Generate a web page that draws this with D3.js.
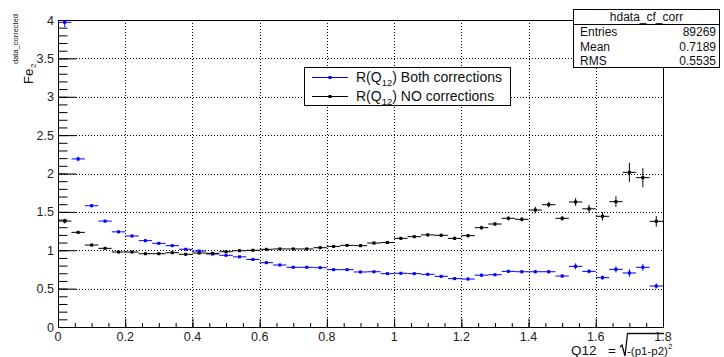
<!DOCTYPE html>
<html>
<head>
<meta charset="utf-8">
<script src="https://cdn.jsdelivr.net/npm/d3@7"></script>
<style>
  body { margin: 0; background: #fff; }
  text { font-family: "Liberation Sans", Arial, sans-serif; }
</style>
</head>
<body>
<div id="chart"></div>
<script type="text/javascript">

// bin centers (bin width 0.04)
var binCenters = [0.02, 0.06, 0.10, 0.14, 0.18, 0.22, 0.26, 0.30, 0.34, 0.38,
    0.42, 0.46, 0.50, 0.54, 0.58, 0.62, 0.66, 0.70, 0.74, 0.78,
    0.82, 0.86, 0.90, 0.94, 0.98, 1.02, 1.06, 1.10, 1.14, 1.18,
    1.22, 1.26, 1.30, 1.34, 1.38, 1.42, 1.46, 1.50, 1.54, 1.58,
    1.62, 1.66, 1.70, 1.74, 1.78];
var binHalfWidth = 0.02;

var bothValues = [3.97, 2.19, 1.58, 1.38, 1.24, 1.186, 1.125, 1.09, 1.06, 1.013,
    0.99, 0.951, 0.934, 0.914, 0.88, 0.838, 0.808, 0.778, 0.778, 0.773,
    0.747, 0.747, 0.717, 0.72, 0.695, 0.70, 0.695, 0.686, 0.66, 0.63,
    0.625, 0.675, 0.681, 0.725, 0.72, 0.72, 0.72, 0.664, 0.79, 0.725,
    0.643, 0.751, 0.704, 0.778, 0.534];
var bothErrors = [0.065, 0.03, 0.02, 0.018, 0.015, 0.014, 0.013, 0.012, 0.012, 0.011,
    0.011, 0.011, 0.011, 0.011, 0.011, 0.011, 0.011, 0.011, 0.012, 0.012,
    0.012, 0.012, 0.012, 0.013, 0.013, 0.013, 0.014, 0.014, 0.015, 0.015,
    0.016, 0.017, 0.018, 0.019, 0.02, 0.021, 0.022, 0.022, 0.039, 0.025,
    0.026, 0.04, 0.05, 0.045, 0.033];

var noCorrValues = [1.38, 1.233, 1.068, 1.025, 0.977, 0.977, 0.955, 0.955, 0.968, 0.947,
    0.964, 0.96, 0.981, 0.994, 1.0, 1.012, 1.017, 1.017, 1.017, 1.033,
    1.05, 1.064, 1.06, 1.094, 1.1, 1.155, 1.177, 1.2, 1.195, 1.155,
    1.19, 1.294, 1.342, 1.416, 1.403, 1.524, 1.594, 1.416, 1.629, 1.54,
    1.442, 1.633, 2.015, 1.946, 1.377];
var noCorrErrors = [0.03, 0.02, 0.015, 0.013, 0.012, 0.012, 0.012, 0.012, 0.012, 0.012,
    0.012, 0.012, 0.012, 0.012, 0.012, 0.013, 0.013, 0.013, 0.014, 0.014,
    0.015, 0.015, 0.016, 0.016, 0.017, 0.018, 0.019, 0.02, 0.021, 0.022,
    0.023, 0.024, 0.025, 0.026, 0.028, 0.043, 0.037, 0.03, 0.05, 0.054,
    0.054, 0.07, 0.124, 0.124, 0.07];

var xTicks = [0, 0.2, 0.4, 0.6, 0.8, 1, 1.2, 1.4, 1.6, 1.8];
var yTicks = [0, 0.5, 1, 1.5, 2, 2.5, 3, 3.5, 4];
var legendLabels = [" Both corrections", " NO corrections"];
var statsTitle = "hdata_cf_corr";
var statsNames = ["Entries", "Mean", "RMS"];
var statsValues = ["89269", "0.7189", "0.5535"];

var W = 724, H = 357;
var padL = 58, padR = 663, padT = 20, padB = 327;

var svg = d3.select("#chart").append("svg")
    .attr("width", W)
    .attr("height", H);

var x = d3.scaleLinear().domain([0, 1.8]).range([padL, padR]);
var y = d3.scaleLinear().domain([0, 4]).range([padB, padT]);

svg.append("defs").append("clipPath")
    .attr("id", "plotclip")
    .append("rect")
    .attr("x", padL).attr("y", padT)
    .attr("width", padR - padL).attr("height", padB - padT);

// grid
var grid = svg.append("g")
    .attr("stroke", "#000")
    .attr("stroke-width", 1)
    .attr("stroke-dasharray", "1,2");
grid.selectAll(".gx").data(xTicks.slice(1, -1)).enter().append("line")
    .attr("x1", function(d) { return Math.round(x(d)) + 0.5; })
    .attr("x2", function(d) { return Math.round(x(d)) + 0.5; })
    .attr("y1", padT).attr("y2", padB);
grid.selectAll(".gy").data(yTicks.slice(1)).enter().append("line")
    .attr("y1", function(d) { return Math.round(y(d)) + 0.5; })
    .attr("y2", function(d) { return Math.round(y(d)) + 0.5; })
    .attr("x1", padL).attr("x2", padR);

// axes (ROOT style ticks pointing inward)
svg.append("g")
    .attr("transform", "translate(0," + (padB + 0.5) + ")")
    .call(d3.axisTop(x).tickValues(d3.range(0, 1.8001, 0.05)).tickSize(4.5).tickFormat(""))
    .call(function(g) { g.select(".domain").remove(); });
svg.append("g")
    .attr("transform", "translate(0," + (padB + 0.5) + ")")
    .call(d3.axisTop(x).tickValues(xTicks).tickSize(9).tickFormat(""))
    .call(function(g) { g.select(".domain").remove(); });

svg.append("g")
    .attr("transform", "translate(" + (padL + 0.5) + ",0)")
    .call(d3.axisRight(y).tickValues(d3.range(0, 4.0001, 0.1)).tickSize(9).tickFormat(""))
    .call(function(g) { g.select(".domain").remove(); });
svg.append("g")
    .attr("transform", "translate(" + (padL + 0.5) + ",0)")
    .call(d3.axisRight(y).tickValues(yTicks).tickSize(18).tickFormat(""))
    .call(function(g) { g.select(".domain").remove(); });

svg.selectAll(".tick line").attr("stroke", "#000");

// frame
svg.append("rect")
    .attr("x", padL + 0.5).attr("y", padT + 0.5)
    .attr("width", padR - padL).attr("height", padB - padT)
    .attr("fill", "none").attr("stroke", "#000").attr("stroke-width", 1);

// tick labels
svg.append("g").selectAll("text")
    .data(xTicks).enter().append("text")
    .attr("x", function(d) { return x(d); })
    .attr("y", 341)
    .attr("text-anchor", "middle")
    .attr("font-size", 12.5)
    .attr("fill", "#222")
    .text(function(d) { return d; });
svg.append("g").selectAll("text")
    .data(yTicks).enter().append("text")
    .attr("x", 54)
    .attr("y", function(d) { return y(d) + 4.5; })
    .attr("text-anchor", "end")
    .attr("font-size", 12.5)
    .attr("fill", "#222")
    .text(function(d) { return d; });

// histograms with error bars
function drawHist(values, errors, color) {
    var g = svg.append("g")
        .attr("clip-path", "url(#plotclip)")
        .attr("stroke", color)
        .attr("fill", color);
    var pts = g.selectAll("g").data(values).enter().append("g");
    pts.append("line")
        .attr("x1", function(d, i) { return x(binCenters[i] - binHalfWidth); })
        .attr("x2", function(d, i) { return x(binCenters[i] + binHalfWidth); })
        .attr("y1", function(d) { return y(d); })
        .attr("y2", function(d) { return y(d); });
    pts.append("line")
        .attr("x1", function(d, i) { return x(binCenters[i]); })
        .attr("x2", function(d, i) { return x(binCenters[i]); })
        .attr("y1", function(d, i) { return y(d - errors[i]); })
        .attr("y2", function(d, i) { return y(d + errors[i]); });
    pts.append("rect")
        .attr("x", function(d, i) { return x(binCenters[i]) - 1.5; })
        .attr("y", function(d) { return y(d) - 1.5; })
        .attr("width", 3).attr("height", 3)
        .attr("stroke", "none");
}
drawHist(bothValues, bothErrors, "#0000ff");
drawHist(noCorrValues, noCorrErrors, "#000");

// legend
var legend = svg.append("g");
legend.append("rect")
    .attr("x", 304.5).attr("y", 67.5)
    .attr("width", 206).attr("height", 38)
    .attr("fill", "#fff").attr("stroke", "#000");
var legendColors = ["#0000ff", "#000"];
var legendY = [77, 96];
legendLabels.forEach(function(lab, i) {
    legend.append("line")
        .attr("x1", 312).attr("x2", 348)
        .attr("y1", legendY[i] + 0.5).attr("y2", legendY[i] + 0.5)
        .attr("stroke", legendColors[i]);
    legend.append("rect")
        .attr("x", 328.5).attr("y", legendY[i] - 1)
        .attr("width", 3).attr("height", 3)
        .attr("fill", legendColors[i]);
    var t = legend.append("text")
        .attr("x", 356).attr("y", legendY[i] + 5)
        .attr("font-size", 14)
        .attr("fill", "#111");
    t.append("tspan").text("R(Q");
    t.append("tspan").attr("font-size", 9.5).attr("dy", 4).text("12");
    t.append("tspan").attr("dy", -4).text(")" + lab);
});

// stats box
var stats = svg.append("g");
stats.append("rect")
    .attr("x", 573.5).attr("y", 9.5)
    .attr("width", 146).attr("height", 58)
    .attr("fill", "#fff").attr("stroke", "#000");
stats.append("line")
    .attr("x1", 573.5).attr("x2", 719.5)
    .attr("y1", 24.5).attr("y2", 24.5)
    .attr("stroke", "#000");
stats.append("text")
    .attr("x", 646.5).attr("y", 21)
    .attr("text-anchor", "middle")
    .attr("font-size", 12)
    .attr("fill", "#111")
    .text(statsTitle);
statsNames.forEach(function(n, i) {
    stats.append("text")
        .attr("x", 580).attr("y", 36 + i * 14.5)
        .attr("font-size", 12).attr("fill", "#111")
        .text(n);
    stats.append("text")
        .attr("x", 716).attr("y", 36 + i * 14.5)
        .attr("text-anchor", "end")
        .attr("font-size", 12).attr("fill", "#111")
        .text(statsValues[i]);
});

// y axis title: Fe_2^{data_corrected}
var yt = svg.append("g")
    .attr("transform", "translate(33,84) rotate(-90)");
yt.append("text")
    .attr("x", 0).attr("y", 0)
    .attr("font-size", 13).attr("fill", "#111")
    .text("Fe");
yt.append("text")
    .attr("x", 16).attr("y", 3)
    .attr("font-size", 8).attr("fill", "#111")
    .text("2");
yt.append("text")
    .attr("x", 20).attr("y", -15)
    .attr("font-size", 7.5).attr("fill", "#111")
    .text("data_corrected");

// x axis title: Q12 = sqrt(-(p1-p2)^2)
var xt = svg.append("g");
xt.append("text")
    .attr("x", 571).attr("y", 355)
    .attr("font-size", 13.5).attr("fill", "#111")
    .text("Q12");
xt.append("text")
    .attr("x", 608).attr("y", 355)
    .attr("font-size", 13.5).attr("fill", "#111")
    .text("=");
xt.append("path")
    .attr("d", "M620,347 L622,345 L625,356 L627.5,333.5 L664,333.5")
    .attr("fill", "none").attr("stroke", "#111").attr("stroke-width", 1.3);
var xt2 = xt.append("text")
    .attr("x", 627).attr("y", 355)
    .attr("font-size", 11.5).attr("fill", "#111");
xt2.append("tspan").text("-(p1-p2)");
xt2.append("tspan").attr("font-size", 8).attr("dy", -6).text("2");

</script>
</body>
</html>
